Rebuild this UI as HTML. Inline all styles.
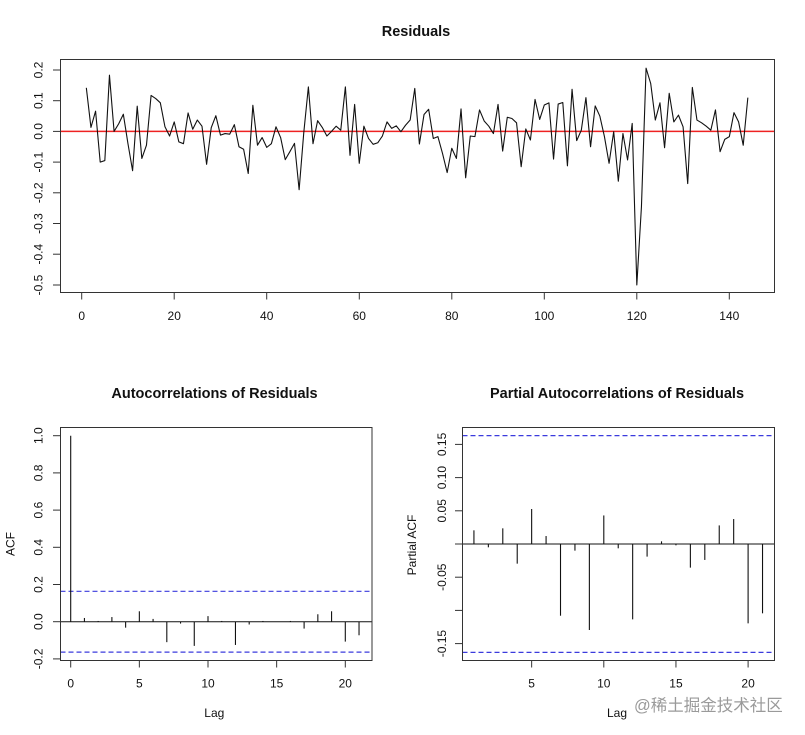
<!DOCTYPE html>
<html>
<head>
<meta charset="utf-8">
<style>
html,body{margin:0;padding:0;background:#fff;}
svg{display:block;}
text{font-family:"Liberation Sans",Arial,sans-serif;fill:#111;}
.t{font-size:12px;}
.ttl{font-size:14.5px;font-weight:bold;}
.ns{vector-effect:non-scaling-stroke;}
</style>
</head>
<body>
<svg width="805" height="735" viewBox="0 0 805 735" xmlns="http://www.w3.org/2000/svg">
<rect width="805" height="735" fill="#fff"/>

<!-- ================= TOP: Residuals ================= -->
<text class="ttl" x="416" y="36" text-anchor="middle">Residuals</text>
<line x1="60.5" y1="131.4" x2="774.5" y2="131.4" stroke="#ee2222" stroke-width="1.5"/>
<g transform="translate(81.7,131.4) scale(4.626,-307.1)">
<polyline class="ns" fill="none" stroke="#111" stroke-width="1.1" stroke-linejoin="round" points="
1,0.142 2,0.013 3,0.066 4,-0.10 5,-0.095 6,0.183 7,0.0 8,0.025 9,0.056 10,-0.04
11,-0.128 12,0.082 13,-0.088 14,-0.045 15,0.117 16,0.107 17,0.093 18,0.015 19,-0.015 20,0.031
21,-0.034 22,-0.04 23,0.06 24,0.007 25,0.037 26,0.017 27,-0.107 28,0.012 29,0.051 30,-0.012
31,-0.007 32,-0.009 33,0.022 34,-0.05 35,-0.058 36,-0.137 37,0.085 38,-0.045 39,-0.02 40,-0.052
41,-0.04 42,0.015 43,-0.02 44,-0.092 45,-0.066 46,-0.039 47,-0.19 48,-0.005 49,0.145 50,-0.04
51,0.035 52,0.013 53,-0.015 54,0.0 55,0.017 56,0.004 57,0.145 58,-0.078 59,0.088 60,-0.104
61,0.017 62,-0.023 63,-0.042 64,-0.037 65,-0.015 66,0.031 67,0.01 68,0.018 69,-0.001 70,0.02
71,0.037 72,0.14 73,-0.041 74,0.055 75,0.072 76,-0.023 77,-0.017 78,-0.072 79,-0.134 80,-0.055
81,-0.088 82,0.073 83,-0.151 84,-0.015 85,-0.017 86,0.07 87,0.034 88,0.017 89,-0.007 90,0.088
91,-0.064 92,0.046 93,0.042 94,0.028 95,-0.115 96,0.008 97,-0.028 98,0.104 99,0.039 100,0.086
101,0.093 102,-0.09 103,0.089 104,0.094 105,-0.112 106,0.137 107,-0.03 108,0.004 109,0.11 110,-0.05
111,0.083 112,0.05 113,-0.017 114,-0.104 115,-0.001 116,-0.162 117,-0.007 118,-0.093 119,0.026 120,-0.50
121,-0.245 122,0.206 123,0.156 124,0.037 125,0.093 126,-0.053 127,0.124 128,0.031 129,0.053 130,0.015
131,-0.17 132,0.143 133,0.037 134,0.028 135,0.017 136,0.004 137,0.07 138,-0.066 139,-0.026 140,-0.017
141,0.061 142,0.031 143,-0.045 144,0.11"/>
</g>
<rect x="60.5" y="59.5" width="714" height="233" fill="none" stroke="#333" stroke-width="1"/>
<!-- x ticks -->
<g stroke="#333" stroke-width="1">
<line x1="81.7" y1="292.5" x2="81.7" y2="299.5"/>
<line x1="174.2" y1="292.5" x2="174.2" y2="299.5"/>
<line x1="266.7" y1="292.5" x2="266.7" y2="299.5"/>
<line x1="359.3" y1="292.5" x2="359.3" y2="299.5"/>
<line x1="451.8" y1="292.5" x2="451.8" y2="299.5"/>
<line x1="544.3" y1="292.5" x2="544.3" y2="299.5"/>
<line x1="636.8" y1="292.5" x2="636.8" y2="299.5"/>
<line x1="729.3" y1="292.5" x2="729.3" y2="299.5"/>
</g>
<g class="t" text-anchor="middle">
<text class="t" x="81.7" y="320">0</text>
<text class="t" x="174.2" y="320">20</text>
<text class="t" x="266.7" y="320">40</text>
<text class="t" x="359.3" y="320">60</text>
<text class="t" x="451.8" y="320">80</text>
<text class="t" x="544.3" y="320">100</text>
<text class="t" x="636.8" y="320">120</text>
<text class="t" x="729.3" y="320">140</text>
</g>
<!-- y ticks -->
<g stroke="#333" stroke-width="1">
<line x1="53" y1="70" x2="60.5" y2="70"/>
<line x1="53" y1="100.7" x2="60.5" y2="100.7"/>
<line x1="53" y1="131.4" x2="60.5" y2="131.4"/>
<line x1="53" y1="162.1" x2="60.5" y2="162.1"/>
<line x1="53" y1="192.8" x2="60.5" y2="192.8"/>
<line x1="53" y1="223.5" x2="60.5" y2="223.5"/>
<line x1="53" y1="254.2" x2="60.5" y2="254.2"/>
<line x1="53" y1="285" x2="60.5" y2="285"/>
</g>
<text class="t" text-anchor="middle" transform="translate(42.6,70) rotate(-90)">0.2</text>
<text class="t" text-anchor="middle" transform="translate(42.6,100.7) rotate(-90)">0.1</text>
<text class="t" text-anchor="middle" transform="translate(42.6,131.4) rotate(-90)">0.0</text>
<text class="t" text-anchor="middle" transform="translate(42.6,162.1) rotate(-90)">-0.1</text>
<text class="t" text-anchor="middle" transform="translate(42.6,192.8) rotate(-90)">-0.2</text>
<text class="t" text-anchor="middle" transform="translate(42.6,223.5) rotate(-90)">-0.3</text>
<text class="t" text-anchor="middle" transform="translate(42.6,254.2) rotate(-90)">-0.4</text>
<text class="t" text-anchor="middle" transform="translate(42.6,285) rotate(-90)">-0.5</text>

<!-- ================= BOTTOM LEFT: ACF ================= -->
<text class="ttl" x="214.5" y="398" text-anchor="middle">Autocorrelations of Residuals</text>
<line x1="60.5" y1="591.3" x2="372" y2="591.3" stroke="#3b3bdd" stroke-width="1.2" stroke-dasharray="5,3"/>
<line x1="60.5" y1="652.1" x2="372" y2="652.1" stroke="#3b3bdd" stroke-width="1.2" stroke-dasharray="5,3"/>
<line x1="60.5" y1="621.7" x2="372" y2="621.7" stroke="#111" stroke-width="1"/>
<g transform="translate(70.7,621.7) scale(13.73,-186)" stroke="#111" stroke-width="1.1">
<line class="ns" x1="0" y1="0" x2="0" y2="1"/>
<line class="ns" x1="1" y1="0" x2="1" y2="0.02"/>
<line class="ns" x1="2" y1="0" x2="2" y2="0.004"/>
<line class="ns" x1="3" y1="0" x2="3" y2="0.025"/>
<line class="ns" x1="4" y1="0" x2="4" y2="-0.032"/>
<line class="ns" x1="5" y1="0" x2="5" y2="0.056"/>
<line class="ns" x1="6" y1="0" x2="6" y2="0.015"/>
<line class="ns" x1="7" y1="0" x2="7" y2="-0.11"/>
<line class="ns" x1="8" y1="0" x2="8" y2="-0.01"/>
<line class="ns" x1="9" y1="0" x2="9" y2="-0.13"/>
<line class="ns" x1="10" y1="0" x2="10" y2="0.03"/>
<line class="ns" x1="11" y1="0" x2="11" y2="0.004"/>
<line class="ns" x1="12" y1="0" x2="12" y2="-0.125"/>
<line class="ns" x1="13" y1="0" x2="13" y2="-0.015"/>
<line class="ns" x1="14" y1="0" x2="14" y2="0.004"/>
<line class="ns" x1="16" y1="0" x2="16" y2="0.004"/>
<line class="ns" x1="17" y1="0" x2="17" y2="-0.037"/>
<line class="ns" x1="18" y1="0" x2="18" y2="0.04"/>
<line class="ns" x1="19" y1="0" x2="19" y2="0.056"/>
<line class="ns" x1="20" y1="0" x2="20" y2="-0.107"/>
<line class="ns" x1="21" y1="0" x2="21" y2="-0.073"/>
</g>
<rect x="60.5" y="427.5" width="311.5" height="233" fill="none" stroke="#333" stroke-width="1"/>
<g stroke="#333" stroke-width="1">
<line x1="70.7" y1="660.5" x2="70.7" y2="667.5"/>
<line x1="139.35" y1="660.5" x2="139.35" y2="667.5"/>
<line x1="208" y1="660.5" x2="208" y2="667.5"/>
<line x1="276.65" y1="660.5" x2="276.65" y2="667.5"/>
<line x1="345.3" y1="660.5" x2="345.3" y2="667.5"/>
<line x1="53" y1="435.7" x2="60.5" y2="435.7"/>
<line x1="53" y1="472.9" x2="60.5" y2="472.9"/>
<line x1="53" y1="510.1" x2="60.5" y2="510.1"/>
<line x1="53" y1="547.3" x2="60.5" y2="547.3"/>
<line x1="53" y1="584.5" x2="60.5" y2="584.5"/>
<line x1="53" y1="621.7" x2="60.5" y2="621.7"/>
<line x1="53" y1="658.9" x2="60.5" y2="658.9"/>
</g>
<text class="t" x="70.7" y="687.6" text-anchor="middle">0</text>
<text class="t" x="139.35" y="687.6" text-anchor="middle">5</text>
<text class="t" x="208" y="687.6" text-anchor="middle">10</text>
<text class="t" x="276.65" y="687.6" text-anchor="middle">15</text>
<text class="t" x="345.3" y="687.6" text-anchor="middle">20</text>
<text class="t" text-anchor="middle" transform="translate(42.6,435.7) rotate(-90)">1.0</text>
<text class="t" text-anchor="middle" transform="translate(42.6,472.9) rotate(-90)">0.8</text>
<text class="t" text-anchor="middle" transform="translate(42.6,510.1) rotate(-90)">0.6</text>
<text class="t" text-anchor="middle" transform="translate(42.6,547.3) rotate(-90)">0.4</text>
<text class="t" text-anchor="middle" transform="translate(42.6,584.5) rotate(-90)">0.2</text>
<text class="t" text-anchor="middle" transform="translate(42.6,621.7) rotate(-90)">0.0</text>
<text class="t" text-anchor="middle" transform="translate(42.6,658.9) rotate(-90)">-0.2</text>
<text class="t" text-anchor="middle" transform="translate(14.5,544) rotate(-90)">ACF</text>
<text class="t" x="214.3" y="717" text-anchor="middle">Lag</text>

<!-- ================= BOTTOM RIGHT: PACF ================= -->
<text class="ttl" x="617" y="398" text-anchor="middle">Partial Autocorrelations of Residuals</text>
<line x1="462.5" y1="435.6" x2="774.5" y2="435.6" stroke="#3b3bdd" stroke-width="1.2" stroke-dasharray="5,3"/>
<line x1="462.5" y1="652.4" x2="774.5" y2="652.4" stroke="#3b3bdd" stroke-width="1.2" stroke-dasharray="5,3"/>
<line x1="462.5" y1="544" x2="774.5" y2="544" stroke="#111" stroke-width="1"/>
<g transform="translate(459.5,544) scale(14.43,-664)" stroke="#111" stroke-width="1.1">
<line class="ns" x1="1" y1="0" x2="1" y2="0.0206"/>
<line class="ns" x1="2" y1="0" x2="2" y2="-0.005"/>
<line class="ns" x1="3" y1="0" x2="3" y2="0.0236"/>
<line class="ns" x1="4" y1="0" x2="4" y2="-0.0296"/>
<line class="ns" x1="5" y1="0" x2="5" y2="0.0527"/>
<line class="ns" x1="6" y1="0" x2="6" y2="0.012"/>
<line class="ns" x1="7" y1="0" x2="7" y2="-0.108"/>
<line class="ns" x1="8" y1="0" x2="8" y2="-0.010"/>
<line class="ns" x1="9" y1="0" x2="9" y2="-0.1295"/>
<line class="ns" x1="10" y1="0" x2="10" y2="0.043"/>
<line class="ns" x1="11" y1="0" x2="11" y2="-0.0065"/>
<line class="ns" x1="12" y1="0" x2="12" y2="-0.1135"/>
<line class="ns" x1="13" y1="0" x2="13" y2="-0.019"/>
<line class="ns" x1="14" y1="0" x2="14" y2="0.004"/>
<line class="ns" x1="15" y1="0" x2="15" y2="-0.002"/>
<line class="ns" x1="16" y1="0" x2="16" y2="-0.0356"/>
<line class="ns" x1="17" y1="0" x2="17" y2="-0.024"/>
<line class="ns" x1="18" y1="0" x2="18" y2="0.028"/>
<line class="ns" x1="19" y1="0" x2="19" y2="0.0376"/>
<line class="ns" x1="20" y1="0" x2="20" y2="-0.1195"/>
<line class="ns" x1="21" y1="0" x2="21" y2="-0.1044"/>
</g>
<rect x="462.5" y="427.5" width="312" height="233" fill="none" stroke="#333" stroke-width="1"/>
<g stroke="#333" stroke-width="1">
<line x1="531.65" y1="660.5" x2="531.65" y2="667.5"/>
<line x1="603.8" y1="660.5" x2="603.8" y2="667.5"/>
<line x1="675.95" y1="660.5" x2="675.95" y2="667.5"/>
<line x1="748.1" y1="660.5" x2="748.1" y2="667.5"/>
<line x1="455" y1="444.4" x2="462.5" y2="444.4"/>
<line x1="455" y1="477.6" x2="462.5" y2="477.6"/>
<line x1="455" y1="510.8" x2="462.5" y2="510.8"/>
<line x1="455" y1="544" x2="462.5" y2="544"/>
<line x1="455" y1="577.2" x2="462.5" y2="577.2"/>
<line x1="455" y1="610.4" x2="462.5" y2="610.4"/>
<line x1="455" y1="643.6" x2="462.5" y2="643.6"/>
</g>
<text class="t" x="531.65" y="687.6" text-anchor="middle">5</text>
<text class="t" x="603.8" y="687.6" text-anchor="middle">10</text>
<text class="t" x="675.95" y="687.6" text-anchor="middle">15</text>
<text class="t" x="748.1" y="687.6" text-anchor="middle">20</text>
<text class="t" text-anchor="middle" transform="translate(446,444.4) rotate(-90)">0.15</text>
<text class="t" text-anchor="middle" transform="translate(446,477.6) rotate(-90)">0.10</text>
<text class="t" text-anchor="middle" transform="translate(446,510.8) rotate(-90)">0.05</text>
<text class="t" text-anchor="middle" transform="translate(446,577.2) rotate(-90)">-0.05</text>
<text class="t" text-anchor="middle" transform="translate(446,643.6) rotate(-90)">-0.15</text>
<text class="t" text-anchor="middle" transform="translate(416,545) rotate(-90)">Partial ACF</text>
<text class="t" x="617" y="717" text-anchor="middle">Lag</text>

<!-- watermark -->
<text x="634" y="711" style="font-family:'Liberation Sans','Noto Sans CJK SC',sans-serif;font-size:16.5px;fill:#9a9a9a;" stroke="#fff" stroke-width="0.6" paint-order="stroke">@稀土掘金技术社区</text>
</svg>
</body>
</html>
